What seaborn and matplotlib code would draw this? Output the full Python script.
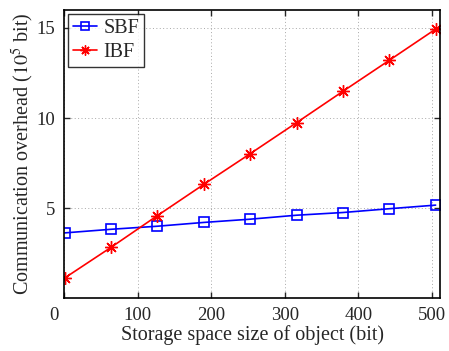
import matplotlib
matplotlib.use("Agg")
import matplotlib.pyplot as plt
import matplotlib.transforms as mtransforms
import seaborn as sns
import pandas as pd
from matplotlib.lines import Line2D

# Storage space size of object (bit)
sizes = [1, 64, 127, 190, 253, 316, 379, 442, 505]
# Communication overhead (10^5 bit)
sbf = [3.63, 3.83, 4.00, 4.21, 4.39, 4.61, 4.76, 4.97, 5.17]
ibf = [1.13, 2.83, 4.59, 6.32, 8.02, 9.74, 11.48, 13.20, 14.93]
series = ["SBF", "IBF"]
x_ticks = [0, 100, 200, 300, 400, 500]
y_ticks = [5, 10, 15]

sns.set_style("ticks")
plt.rcParams["font.family"] = ["Liberation Serif", "DejaVu Serif"]
plt.rcParams["mathtext.fontset"] = "stix"

fig = plt.figure(figsize=(4.49, 3.51), dpi=100)
ax = fig.add_axes([0.1425, 0.150, 0.8375, 0.822])

palette = {"SBF": "#0000ff", "IBF": "#ff0000"}
markers = {"SBF": "s", "IBF": (8, 2, 0)}
msize = {"SBF": 7.5, "IBF": 9}
medge = {"SBF": 1.2, "IBF": 1.0}

for name, values in zip(series, [sbf, ibf]):
    df = pd.DataFrame({"size": sizes, "overhead": values})
    sns.lineplot(data=df, x="size", y="overhead", ax=ax, color=palette[name],
                 marker=markers[name], markersize=msize[name],
                 markerfacecolor="none", markeredgecolor=palette[name],
                 markeredgewidth=medge[name], linewidth=1.2, legend=False)

ax.set_xlim(0, 511)
ax.set_ylim(0, 16)
ax.set_xticks(x_ticks)
ax.set_yticks(y_ticks)
ax.grid(True, linestyle=(0, (1, 2.5)), color="#a8a8a8", linewidth=0.7)
ax.tick_params(direction="in", top=True, right=True, labelsize=13.5,
               length=4, width=1.0, pad=6)
for s in ax.spines.values():
    s.set_linewidth(1.2)
    s.set_color("black")

# nudge the origin label away from the y axis
first = ax.get_xticklabels()[0]
first.set_transform(first.get_transform() +
                    mtransforms.ScaledTranslation(-10 / 100, 0, fig.dpi_scale_trans))

ax.set_xlabel("Storage space size of object (bit)", fontsize=14.5, labelpad=1)
ax.set_ylabel(r"Communication overhead ($10^5$ bit)", fontsize=14.5, labelpad=1)

handles = [Line2D([], [], color=palette[n], marker=markers[n],
                  markersize=msize[n] * 0.8, markerfacecolor="none",
                  markeredgecolor=palette[n], markeredgewidth=medge[n],
                  linewidth=1.2) for n in series]
leg = ax.legend(handles, series, loc="upper left", fontsize=14.5,
                frameon=True, fancybox=False, edgecolor="black",
                borderaxespad=0.2, handlelength=1.2, handletextpad=0.3,
                borderpad=0.25, labelspacing=0.25)
leg.get_frame().set_linewidth(1.0)

fig.savefig("out.png", dpi=100)
